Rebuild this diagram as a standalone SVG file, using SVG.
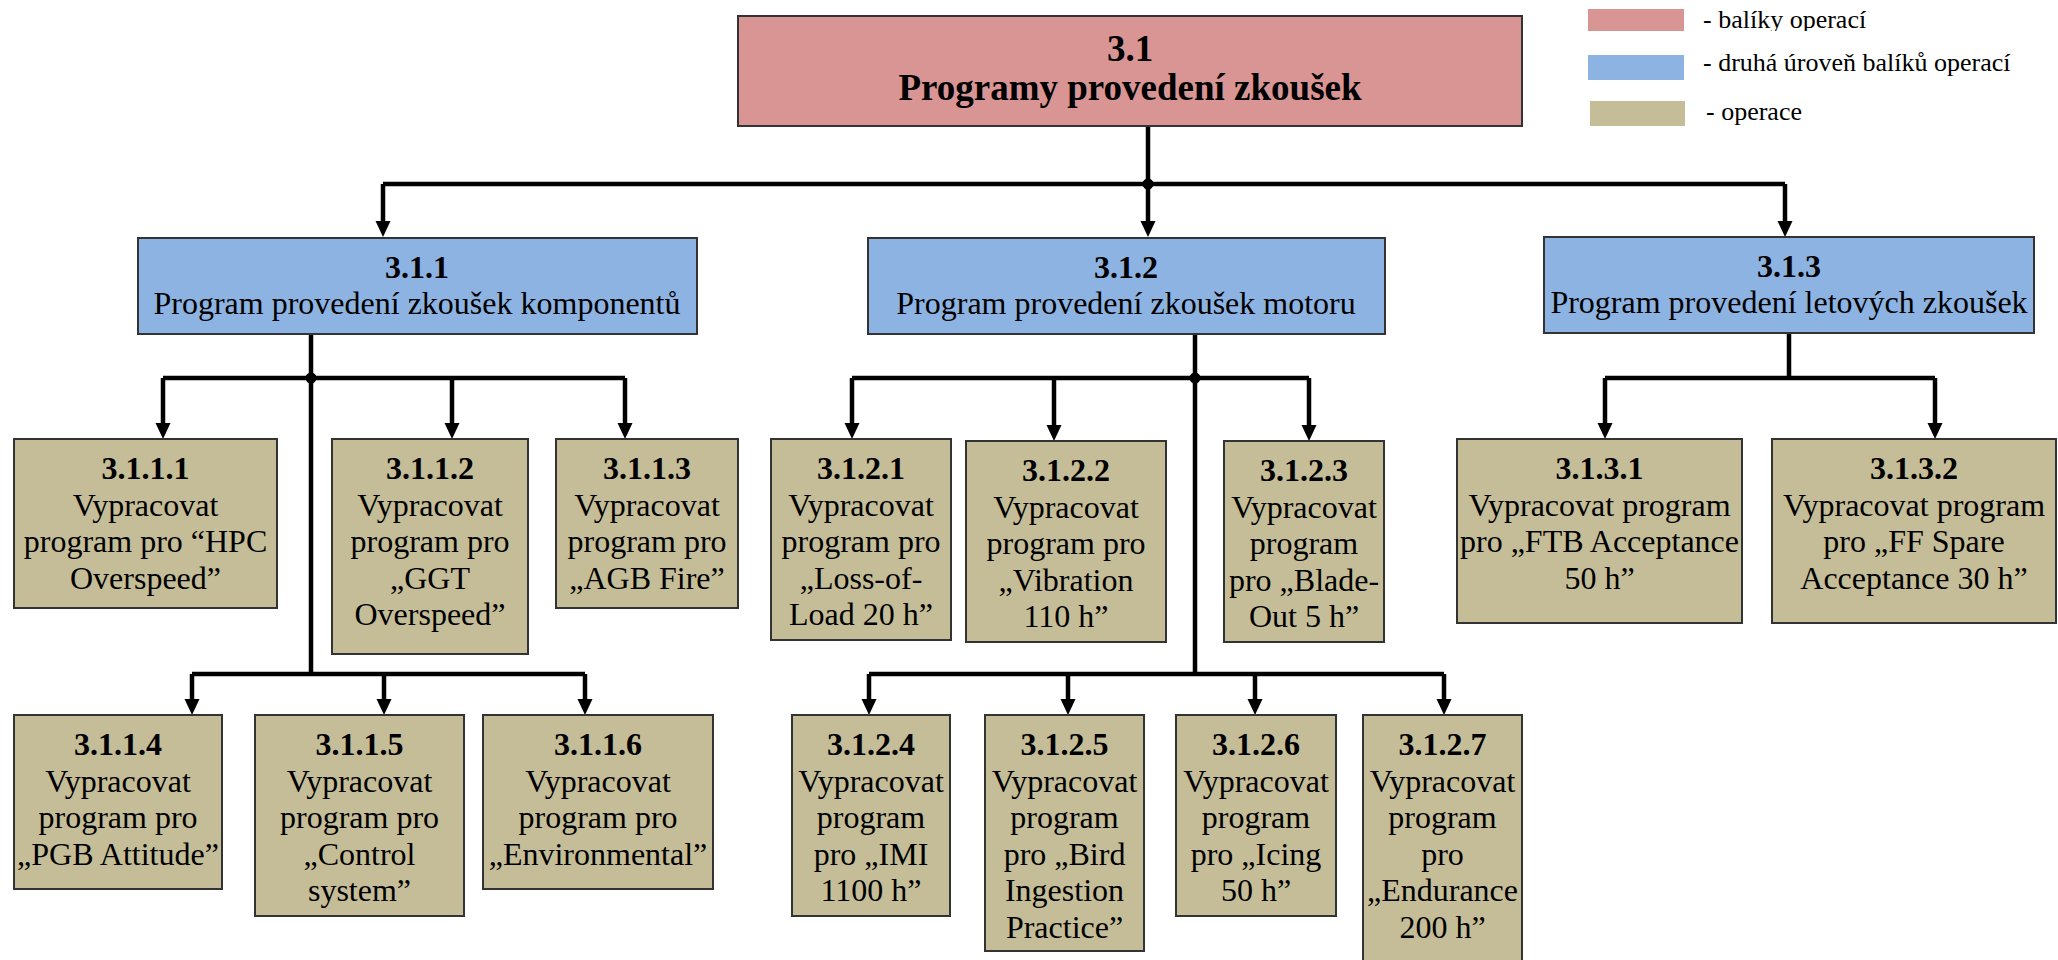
<svg xmlns="http://www.w3.org/2000/svg" width="2058" height="960" viewBox="0 0 2058 960">
<style>
.red{fill:#D99594}
.blue{fill:#8DB3E2}
.tan{fill:#C4BD97}
.box{stroke:#333333;stroke-width:2}
.t{font-family:"Liberation Serif","Times New Roman",serif;font-size:32px;text-anchor:middle;fill:#000}
.b{font-weight:bold}
.top{font-size:37px;font-weight:bold}
.lg{font-family:"Liberation Serif","Times New Roman",serif;font-size:26px;fill:#000}
.conn{stroke:#000;stroke-width:4.5;fill:none}
.arr{stroke:#000;stroke-width:4.5;fill:none;marker-end:url(#ah)}
</style>
<defs>
<marker id="ah" markerUnits="userSpaceOnUse" markerWidth="18" markerHeight="16" refX="8" refY="7.5" orient="auto">
<path d="M0,0 L16,7.5 L0,15 z" fill="#000"/>
</marker>
<clipPath id="lgclip"><rect x="1690" y="0" width="360" height="31"/></clipPath>
</defs>
<rect width="2058" height="960" fill="#fff"/>

<g id="legend">
<rect x="1588" y="9" width="96" height="22" class="red"/>
<text x="1703" y="28" class="lg" clip-path="url(#lgclip)">- balíky operací</text>
<rect x="1588" y="55" width="96" height="25" class="blue"/>
<text x="1703" y="71" class="lg">- druhá úroveň balíků operací</text>
<rect x="1590" y="101" width="95" height="25" class="tan"/>
<text x="1706" y="120" class="lg">- operace</text>
</g>

<g id="connectors">
<path class="conn" d="M1148,126 V184 M383,184 H1785"/>
<path class="arr" d="M383,184 V229"/>
<path class="arr" d="M1148,184 V229"/>
<path class="arr" d="M1785,184 V229"/>
<circle cx="1148" cy="184" r="5.5" fill="#000"/>

<path class="conn" d="M311,334 V674 M163,378 H625"/>
<path class="arr" d="M163,378 V431"/>
<path class="arr" d="M452,378 V431"/>
<path class="arr" d="M625,378 V431"/>
<circle cx="311" cy="378" r="5.5" fill="#000"/>
<path class="conn" d="M192,674 H585"/>
<path class="arr" d="M192,674 V707"/>
<path class="arr" d="M384,674 V707"/>
<path class="arr" d="M585,674 V707"/>

<path class="conn" d="M1195,334 V674 M852,378 H1309"/>
<path class="arr" d="M852,378 V431"/>
<path class="arr" d="M1054,378 V433"/>
<path class="arr" d="M1309,378 V433"/>
<circle cx="1195" cy="378" r="5.5" fill="#000"/>
<path class="conn" d="M869,674 H1444"/>
<path class="arr" d="M869,674 V707"/>
<path class="arr" d="M1068,674 V707"/>
<path class="arr" d="M1255,674 V707"/>
<path class="arr" d="M1444,674 V707"/>

<path class="conn" d="M1789,333 V378 M1605,378 H1935"/>
<path class="arr" d="M1605,378 V431"/>
<path class="arr" d="M1935,378 V431"/>
</g>

<g id="n3_1">
<rect x="738" y="16" width="784" height="110" class="red box"/>
<text class="t top" x="1130" y="61">3.1</text>
<text class="t top" x="1130" y="100">Programy provedení zkoušek</text>
</g>

<g id="n3_1_1">
<rect x="138" y="238" width="559" height="96" class="blue box"/>
<text class="t b" x="417" y="278">3.1.1</text>
<text class="t" x="417" y="314">Program provedení zkoušek komponentů</text>
</g>
<g id="n3_1_2">
<rect x="868" y="238" width="517" height="96" class="blue box"/>
<text class="t b" x="1126" y="278">3.1.2</text>
<text class="t" x="1126" y="314">Program provedení zkoušek motoru</text>
</g>
<g id="n3_1_3">
<rect x="1544" y="237" width="490" height="96" class="blue box"/>
<text class="t b" x="1789" y="277">3.1.3</text>
<text class="t" x="1789" y="313">Program provedení letových zkoušek</text>
</g>

<g id="n3_1_1_1">
<rect x="14" y="439" width="263" height="169" class="tan box"/>
<text class="t b" x="145.5" y="479">3.1.1.1</text>
<text class="t" x="145.5" y="515.5">Vypracovat</text>
<text class="t" x="145.5" y="552">program pro “HPC</text>
<text class="t" x="145.5" y="588.5">Overspeed”</text>
</g>
<g id="n3_1_1_2">
<rect x="332" y="439" width="196" height="215" class="tan box"/>
<text class="t b" x="430" y="479">3.1.1.2</text>
<text class="t" x="430" y="515.5">Vypracovat</text>
<text class="t" x="430" y="552">program pro</text>
<text class="t" x="430" y="588.5">„GGT</text>
<text class="t" x="430" y="625">Overspeed”</text>
</g>
<g id="n3_1_1_3">
<rect x="556" y="439" width="182" height="169" class="tan box"/>
<text class="t b" x="647" y="479">3.1.1.3</text>
<text class="t" x="647" y="515.5">Vypracovat</text>
<text class="t" x="647" y="552">program pro</text>
<text class="t" x="647" y="588.5">„AGB Fire”</text>
</g>
<g id="n3_1_1_4">
<rect x="14" y="715" width="208" height="174" class="tan box"/>
<text class="t b" x="118" y="755">3.1.1.4</text>
<text class="t" x="118" y="791.5">Vypracovat</text>
<text class="t" x="118" y="828">program pro</text>
<text class="t" x="118" y="864.5">„PGB Attitude”</text>
</g>
<g id="n3_1_1_5">
<rect x="255" y="715" width="209" height="201" class="tan box"/>
<text class="t b" x="359.5" y="755">3.1.1.5</text>
<text class="t" x="359.5" y="791.5">Vypracovat</text>
<text class="t" x="359.5" y="828">program pro</text>
<text class="t" x="359.5" y="864.5">„Control</text>
<text class="t" x="359.5" y="901">system”</text>
</g>
<g id="n3_1_1_6">
<rect x="483" y="715" width="230" height="174" class="tan box"/>
<text class="t b" x="598" y="755">3.1.1.6</text>
<text class="t" x="598" y="791.5">Vypracovat</text>
<text class="t" x="598" y="828">program pro</text>
<text class="t" x="598" y="864.5">„Environmental”</text>
</g>

<g id="n3_1_2_1">
<rect x="771" y="439" width="180" height="201" class="tan box"/>
<text class="t b" x="861" y="479">3.1.2.1</text>
<text class="t" x="861" y="515.5">Vypracovat</text>
<text class="t" x="861" y="552">program pro</text>
<text class="t" x="861" y="588.5">„Loss-of-</text>
<text class="t" x="861" y="625">Load 20 h”</text>
</g>
<g id="n3_1_2_2">
<rect x="966" y="441" width="200" height="201" class="tan box"/>
<text class="t b" x="1066" y="481">3.1.2.2</text>
<text class="t" x="1066" y="517.5">Vypracovat</text>
<text class="t" x="1066" y="554">program pro</text>
<text class="t" x="1066" y="590.5">„Vibration</text>
<text class="t" x="1066" y="627">110 h”</text>
</g>
<g id="n3_1_2_3">
<rect x="1224" y="441" width="160" height="201" class="tan box"/>
<text class="t b" x="1304" y="481">3.1.2.3</text>
<text class="t" x="1304" y="517.5">Vypracovat</text>
<text class="t" x="1304" y="554">program</text>
<text class="t" x="1304" y="590.5">pro „Blade-</text>
<text class="t" x="1304" y="627">Out 5 h”</text>
</g>
<g id="n3_1_2_4">
<rect x="792" y="715" width="158" height="201" class="tan box"/>
<text class="t b" x="871" y="755">3.1.2.4</text>
<text class="t" x="871" y="791.5">Vypracovat</text>
<text class="t" x="871" y="828">program</text>
<text class="t" x="871" y="864.5">pro „IMI</text>
<text class="t" x="871" y="901">1100 h”</text>
</g>
<g id="n3_1_2_5">
<rect x="985" y="715" width="159" height="236" class="tan box"/>
<text class="t b" x="1064.5" y="755">3.1.2.5</text>
<text class="t" x="1064.5" y="791.5">Vypracovat</text>
<text class="t" x="1064.5" y="828">program</text>
<text class="t" x="1064.5" y="864.5">pro „Bird</text>
<text class="t" x="1064.5" y="901">Ingestion</text>
<text class="t" x="1064.5" y="937.5">Practice”</text>
</g>
<g id="n3_1_2_6">
<rect x="1176" y="715" width="160" height="201" class="tan box"/>
<text class="t b" x="1256" y="755">3.1.2.6</text>
<text class="t" x="1256" y="791.5">Vypracovat</text>
<text class="t" x="1256" y="828">program</text>
<text class="t" x="1256" y="864.5">pro „Icing</text>
<text class="t" x="1256" y="901">50 h”</text>
</g>
<g id="n3_1_2_7">
<rect x="1363" y="715" width="159" height="260" class="tan box"/>
<text class="t b" x="1442.5" y="755">3.1.2.7</text>
<text class="t" x="1442.5" y="791.5">Vypracovat</text>
<text class="t" x="1442.5" y="828">program</text>
<text class="t" x="1442.5" y="864.5">pro</text>
<text class="t" x="1442.5" y="901">„Endurance</text>
<text class="t" x="1442.5" y="937.5">200 h”</text>
</g>

<g id="n3_1_3_1">
<rect x="1457" y="439" width="285" height="184" class="tan box"/>
<text class="t b" x="1599.5" y="479">3.1.3.1</text>
<text class="t" x="1599.5" y="515.5">Vypracovat program</text>
<text class="t" x="1599.5" y="552">pro „FTB Acceptance</text>
<text class="t" x="1599.5" y="588.5">50 h”</text>
</g>
<g id="n3_1_3_2">
<rect x="1772" y="439" width="284" height="184" class="tan box"/>
<text class="t b" x="1914" y="479">3.1.3.2</text>
<text class="t" x="1914" y="515.5">Vypracovat program</text>
<text class="t" x="1914" y="552">pro „FF Spare</text>
<text class="t" x="1914" y="588.5">Acceptance 30 h”</text>
</g>
</svg>
